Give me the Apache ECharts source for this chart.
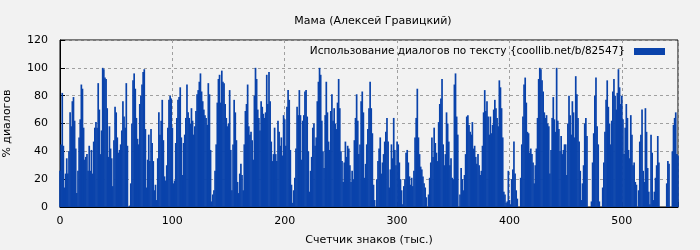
<!DOCTYPE html>
<html><head><meta charset="utf-8">
<script src="https://cdn.jsdelivr.net/npm/echarts@6/dist/echarts.min.js"></script>
<style>html,body{margin:0;padding:0;background:#f2f2f2}#c{width:700px;height:250px}</style>
</head><body><div id="c"></div>
<script>
const titleText = 'Мама (Алексей Гравицкий)';
const seriesName = 'Использование диалогов по тексту {coollib.net/b/82547}';
const xAxisName = 'Счетчик знаков (тыс.)';
const yAxisName = '% диалогов';
const xTicks = [0, 100, 200, 300, 400, 500];
const yTicks = [0, 20, 40, 60, 80, 100, 120];
// dialogue share (%) per thousand characters
const seg0 = [26,45,82,44,14,24,35,24,40,68,58,76,79,62,42,10,26,50,63,88,85,57,34,36,38,26,44,26,41,24,47,57,61,57,89,70,38,55,100,99,93,92,71,36,58,42,35,15,48,72];
const seg1 = [68,50,39,41,45,55,76,65,57,89,44,0,1,17,60,91,96,85,64,49,45,74,80,88,97,99,56,14,34,52,33,56,46,33,12,16,5,35,68,52,62,77,48,22,19,30,57,77,80,78];
const seg2 = [57,17,19,46,64,77,79,86,50,23,46,52,64,88,68,64,60,71,62,52,58,69,81,84,90,96,83,76,70,66,64,59,89,81,41,4,9,12,26,45,75,92,95,75,98,90,89,74,64,58];
const seg3 = [60,84,41,12,45,77,68,48,18,10,24,31,23,12,45,69,74,88,58,52,54,48,34,80,100,92,70,64,55,76,72,67,64,68,95,74,97,76,47,33,38,57,38,33,62,54,44,50,37,66];
const seg4 = [63,44,72,84,77,41,16,3,12,21,42,72,66,84,66,34,62,66,83,84,65,40,11,26,36,57,60,44,50,76,90,100,95,62,40,28,66,90,68,47,41,69,81,62,71,60,56,75,92,71];
const seg5 = [40,33,18,32,47,36,44,42,30,18,26,20,48,64,81,62,38,45,76,83,68,21,31,45,56,71,90,71,53,16,5,0,20,33,42,50,24,32,38,47,54,64,47,14,27,45,35,64,41,30];
const seg6 = [47,45,32,20,12,2,15,20,39,41,32,22,16,21,15,26,50,64,85,50,38,29,27,22,17,14,7,0,9,21,32,50,36,57,46,39,33,61,74,78,92,45,30,38,68,60,47,30,35,21];
const seg7 = [20,88,96,65,52,0,9,28,20,12,23,38,65,66,59,54,52,61,42,44,36,31,38,30,23,26,44,68,84,69,76,65,52,65,53,59,70,77,71,64,58,91,86,71,50,11,9,3,4,26];
const seg8 = [5,2,20,27,47,24,12,6,0,0,21,45,65,88,93,75,54,53,39,42,38,32,17,30,42,64,92,100,99,91,83,68,64,66,60,58,24,41,64,79,63,54,100,62,56,40,51,38,41,45];
const seg9 = [45,23,60,80,66,52,76,68,50,94,81,64,47,26,5,17,30,60,64,51,0,0,0,4,32,53,80,93,58,45,4,0,0,14,32,54,77,91,72,60,45,62,83,92,80,70,82,99,86,74];
const seg10 = [80,63,38,57,74,64,41,35,66,52,30,32,18,16,0,12,47,52,70,26,18,71,54,28,11,2,52,39,5,11,21,30,51,32,0,0,0,0,0,0,17,33,31,0,0,40,59,64,68,38,37];

const values = [].concat(seg0,seg1,seg2,seg3,seg4,seg5,seg6,seg7,seg8,seg9,seg10);
const data = values.map((v, i) => [i, v]);

const font = 'DejaVu Sans';
const chart = echarts.init(document.getElementById('c'), null, {renderer: 'canvas'});
chart.setOption({
  backgroundColor: '#f2f2f2',
  animation: false,
  textStyle: {fontFamily: font},
  title: {
    text: titleText, left: 368, top: 11, textAlign: 'center',
    textStyle: {fontFamily: font, fontSize: 11, fontWeight: 'normal', color: '#000'}
  },
  legend: {
    data: [{name: seriesName, icon: 'rect'}],
    right: 30, top: 41, align: 'right',
    itemWidth: 31, itemHeight: 7,
    textStyle: {fontFamily: font, fontSize: 10.5, color: '#000', padding: [0, 4, 0, 0]}
  },
  grid: {left: 60, right: 22, top: 40, bottom: 43, show: true, borderColor: '#000', borderWidth: 1,
    backgroundColor: 'transparent', containLabel: false, outerBoundsMode: 'none'},
  xAxis: {
    type: 'value', min: xTicks[0], max: 550, interval: 100,
    name: xAxisName, nameLocation: 'middle', nameGap: 28,
    nameTextStyle: {fontFamily: font, fontSize: 11, color: '#000'},
    axisLine: {lineStyle: {color: '#000'}},
    axisTick: {inside: true, length: 5, lineStyle: {color: '#000'}},
    axisLabel: {fontFamily: font, fontSize: 11, color: '#000', margin: 9,
      formatter: v => xTicks.indexOf(v) >= 0 ? String(v) : ''},
    splitLine: {show: true, lineStyle: {color: '#a0a0a0', type: [3, 3]}}
  },
  yAxis: {
    type: 'value', min: yTicks[0], max: yTicks[yTicks.length - 1], interval: 20,
    name: yAxisName, nameLocation: 'middle', nameGap: 47, nameRotate: 90,
    nameTextStyle: {fontFamily: font, fontSize: 11, color: '#000'},
    axisLine: {lineStyle: {color: '#000'}},
    axisTick: {inside: true, length: 5, lineStyle: {color: '#000'}},
    axisLabel: {fontFamily: font, fontSize: 11, color: '#000', margin: 12},
    splitLine: {show: true, lineStyle: {color: '#a0a0a0', type: [3, 3]}}
  },
  series: [{
    name: seriesName, type: 'bar', data: data,
    barWidth: 1.7, itemStyle: {color: '#0a43ab'}
  }]
});
</script></body></html>
